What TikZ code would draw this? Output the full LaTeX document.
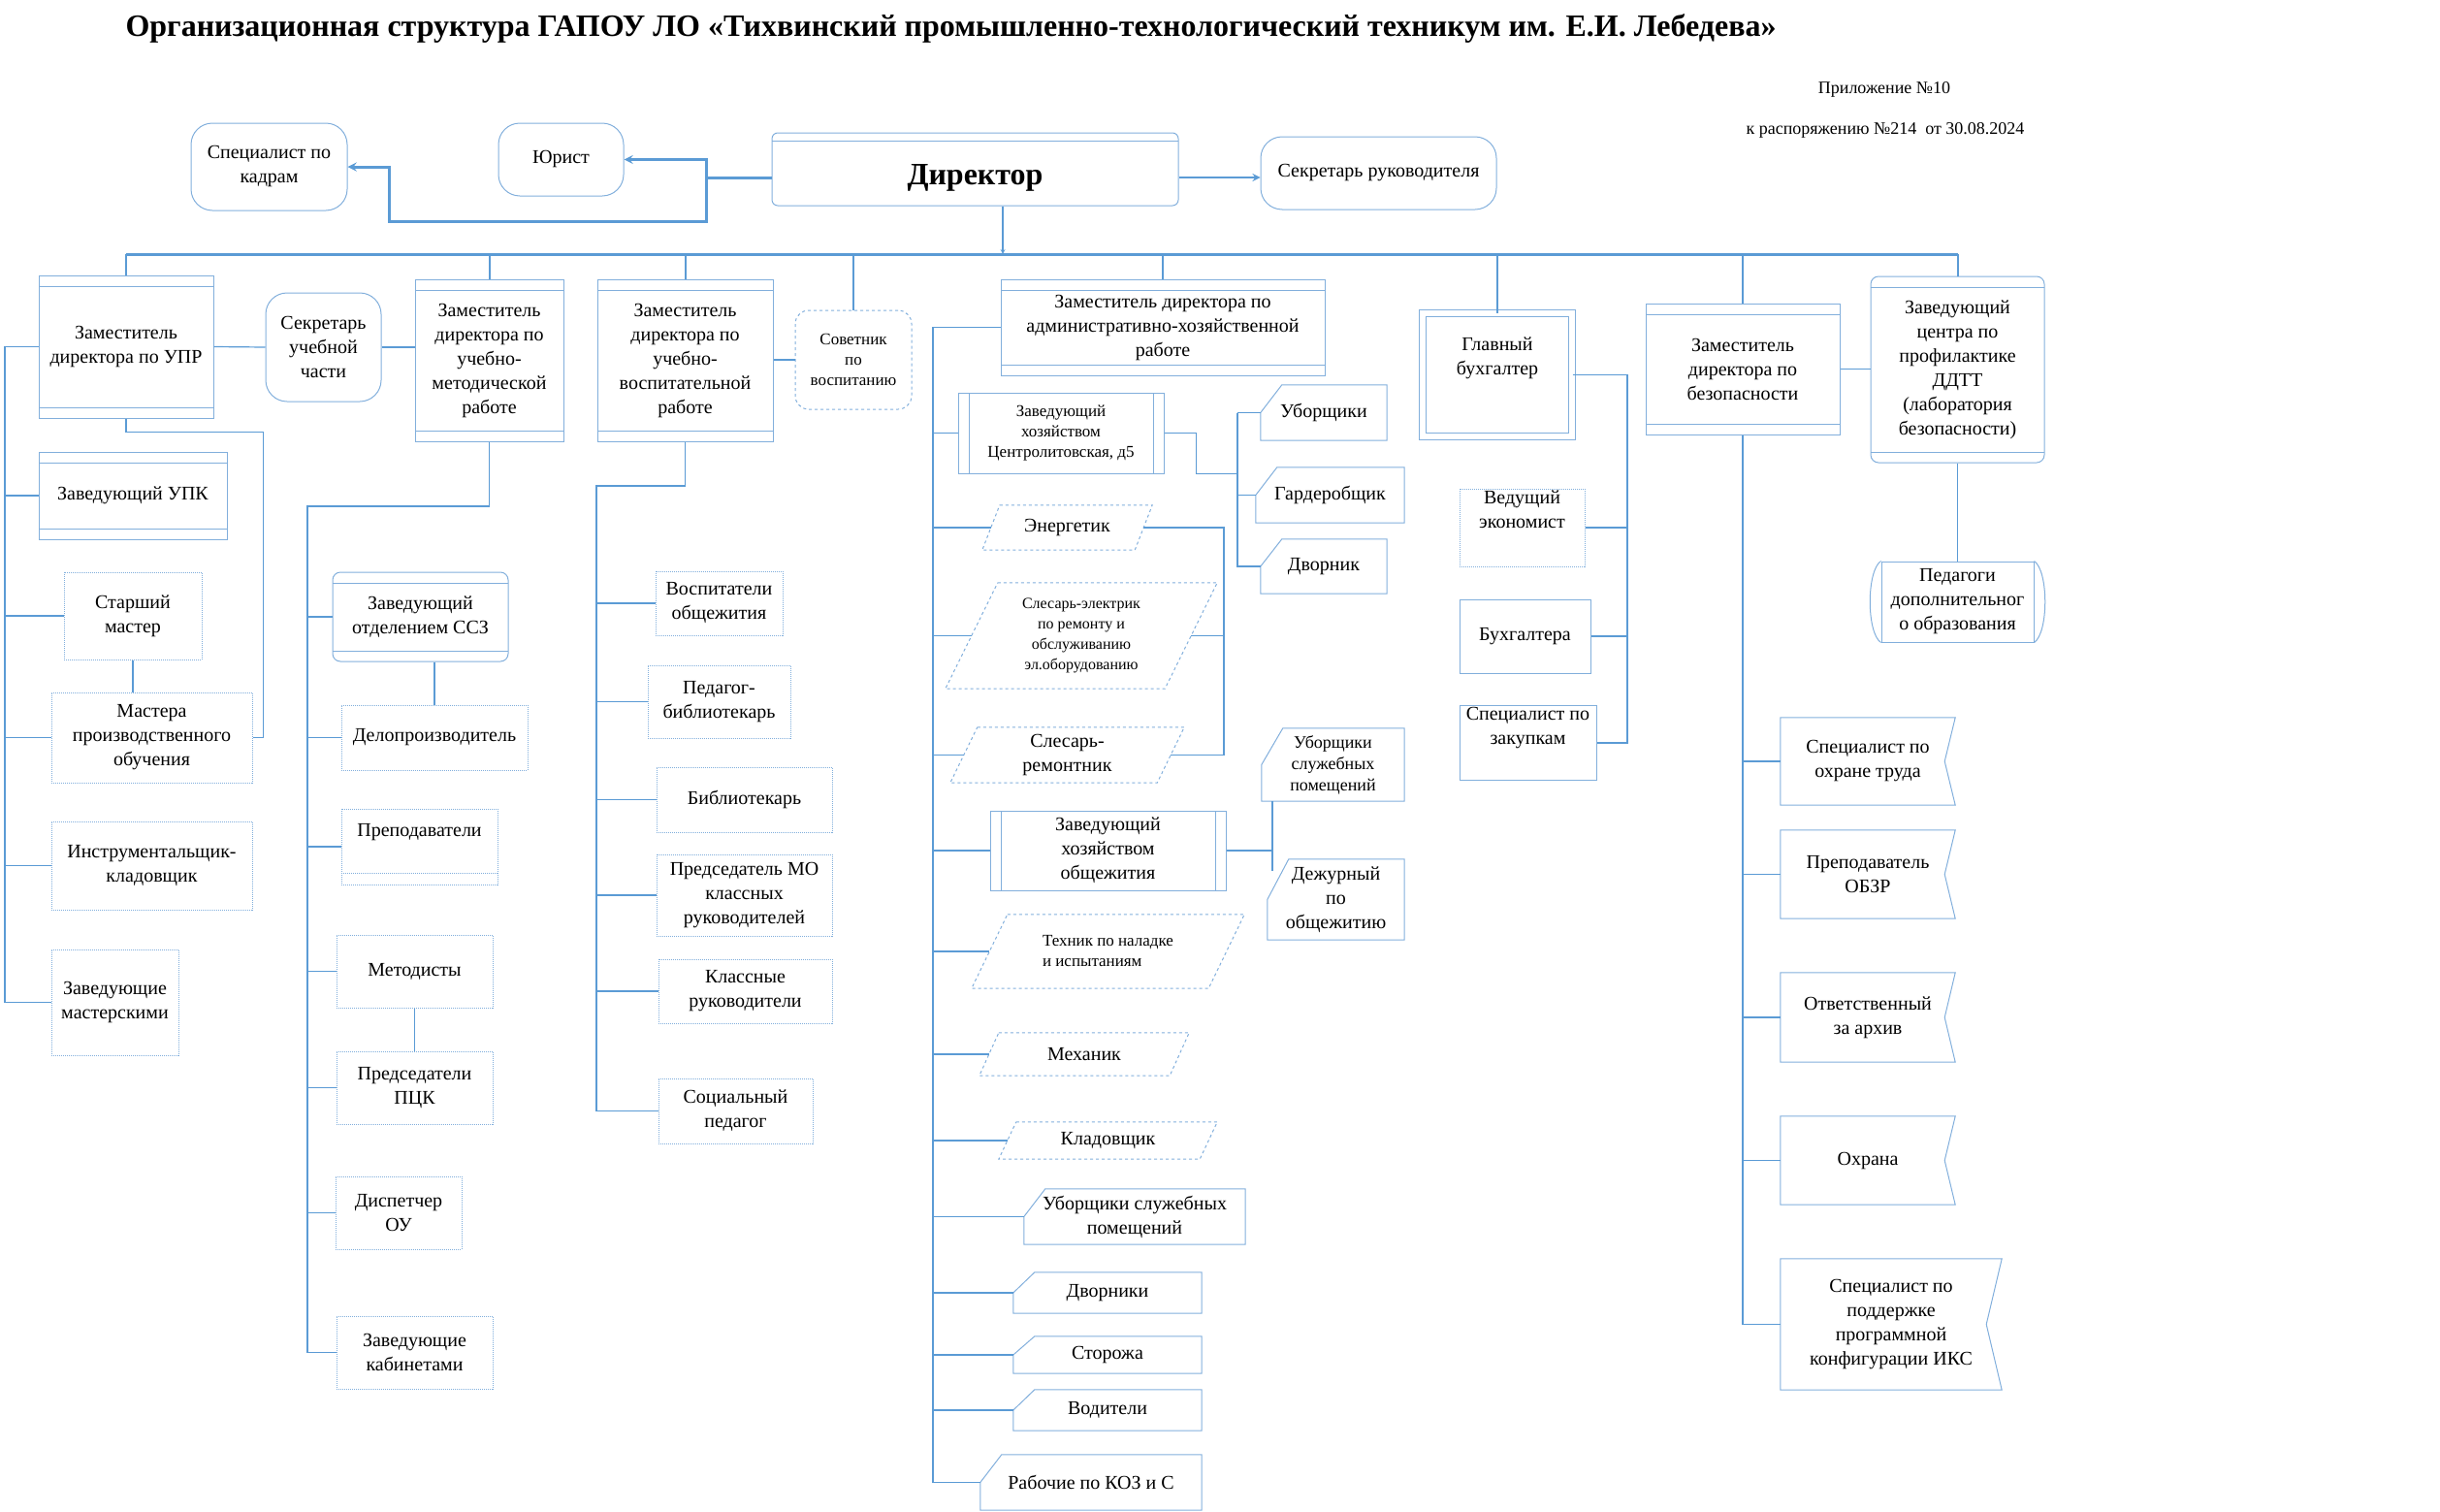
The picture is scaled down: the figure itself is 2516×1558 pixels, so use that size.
\documentclass[tikz,border=0pt]{standalone}
\usepackage{fontspec}
\setmainfont{Liberation Serif}
\usetikzlibrary{arrows}
\definecolor{boxc}{RGB}{130,175,220}
\definecolor{lnc}{RGB}{91,155,213}

\newcommand{\slantbox}[2]{\draw[dashbox] ([xshift=#2/2]#1.north west) -- ([xshift=#2/2]#1.north east) -- ([xshift=-#2/2]#1.south east) -- ([xshift=-#2/2]#1.south west) -- cycle;}
\newcommand{\snipbox}[2]{\draw[solidbox] (#1.west) -- ([xshift=#2]#1.north west) -- (#1.north east) -- (#1.south east) -- (#1.south west) -- cycle;}
\newcommand{\flagbox}[2]{\draw[solidbox] (#1.north west) -- (#1.north east) -- ([xshift=-#2]#1.east) -- (#1.south east) -- (#1.south west) -- cycle;}

\begin{document}
\begin{tikzpicture}[x=1pt, y=-1pt, font=\fontsize{20}{25}\selectfont,
  sz/.style 2 args={minimum width=#1pt, minimum height=#2pt}]
\tikzstyle{box} = [draw=boxc, line width=1pt, align=center, inner sep=2pt]
\tikzstyle{plain} = [align=center, inner sep=2pt]
\tikzstyle{rbox} = [box, rounded corners=22pt]
\tikzstyle{dotbox} = [box, densely dotted]
\tikzstyle{dashbox} = [draw=boxc, line width=1pt, dashed]
\tikzstyle{solidbox} = [draw=boxc, line width=1pt]
\tikzstyle{band} = [box, path picture={\draw[boxc, line width=1pt]
  ([yshift=-11pt]path picture bounding box.north west) -- ([yshift=-11pt]path picture bounding box.north east)
  ([yshift=11pt]path picture bounding box.south west) -- ([yshift=11pt]path picture bounding box.south east);}]
\tikzstyle{predef} = [box, path picture={\draw[boxc, line width=1pt]
  ([xshift=11pt]path picture bounding box.north west) -- ([xshift=11pt]path picture bounding box.south west)
  ([xshift=-11pt]path picture bounding box.north east) -- ([xshift=-11pt]path picture bounding box.south east);}]
\tikzstyle{link} = [draw=lnc, line width=1.2pt]
\tikzstyle{drop} = [draw=lnc, line width=2pt]
\tikzstyle{bus} = [draw=lnc, line width=3pt]
\tikzstyle{small} = [font=\fontsize{17}{21}\selectfont]

\useasboundingbox (0,0) rectangle (2516,1558);

\node[anchor=west, font=\bfseries\fontsize{32}{40}\selectfont] (title) at (126,29)
  {Организационная структура ГАПОУ ЛО «Тихвинский промышленно-технологический техникум им. Е.И. Лебедева»};
\node[font=\fontsize{18}{22}\selectfont] (pril) at (1943,92) {Приложение №10};
\node[font=\fontsize{18}{22}\selectfont] (rasp) at (1944,134) {к распоряжению №214~ от 30.08.2024};

% руководство
\node[box, rounded corners=6pt, sz={419}{75}, path picture={\draw[boxc, line width=1pt]
  ([yshift=-8pt]path picture bounding box.north west) -- ([yshift=-8pt]path picture bounding box.north east);},
  label={[font=\bfseries\fontsize{32}{38}\selectfont, yshift=-9pt]center:Директор}]
  (dir) at (1005.5,174.5) {};
\node[rbox, sz={161}{90}] (kadr) at (277.5,172) {Специалист по\\кадрам};
\node[rbox, sz={129}{75}] (yur) at (578.5,164.5) {Юрист};
\node[rbox, sz={243}{75}] (sekr) at (1421.5,178.5) {Секретарь руководителя};

\coordinate (jd) at (728,183);
\coordinate (busd) at (1034,262);
\draw[draw=lnc, line width=3pt] (jd -| dir.west) -- (jd);
\draw[draw=lnc, line width=3pt, ->, >=stealth] (jd) |- (yur.east);
\draw[draw=lnc, line width=3pt, ->, >=stealth] (jd) |- ([xshift=43pt, yshift=-56pt]kadr.east) |- (kadr.east);
\draw[draw=lnc, line width=2.5pt, ->, >=stealth] (jd -| dir.east) -- (jd -| sekr.west);
\draw[link, ->, >=stealth] (busd |- dir.south) -- (busd);

% заместители
\node[band, sz={180}{147}] (upr) at (130,357.5) {Заместитель\\директора по УПР};
\node[rbox, sz={119}{112}] (sup) at (333.5,358) {Секретарь\\учебной\\части};
\node[band, sz={153}{167}] (umr) at (504.5,371.5) {Заместитель\\директора по\\учебно-\\методической\\работе};
\node[band, sz={181}{167}] (uvr) at (706.5,371.5) {Заместитель\\директора по\\учебно-\\воспитательной\\работе};
\node[box, dashed, rounded corners=14pt, small, sz={120}{102}] (sov) at (880,371) {Советник\\по\\воспитанию};
\node[band, sz={334}{99}] (ahr) at (1199,337.5) {Заместитель директора по\\административно-хозяйственной\\работе};
\node[box, double=white, double distance=6pt, sz={154}{127}] (gb) at (1544,386.5) {Главный\\бухгалтер\\[14pt]};
\node[band, sz={200}{135}] (zb) at (1797,380.5) {Заместитель\\директора по\\безопасности};
\node[band, rounded corners=8pt, sz={179}{192}] (centr) at (2018.5,381)
  {Заведующий\\центра по\\профилактике\\ДДТТ\\(лаборатория\\безопасности)};

\draw[bus] (upr.north |- busd) -- (centr.north |- busd);
\foreach \n in {upr,umr,uvr,sov,ahr,gb,zb,centr}
  \draw[drop] (\n.north |- busd) -- (\n.north);
\draw[link] (upr.east) -- (sup.west);
\draw[link] (sup.east) -- (sup.east -| umr.west);
\draw[link] (uvr.east |- sov.west) -- (sov.west);
\draw[link] (zb.east) -- (zb.east -| centr.west);

% УПР
\node[band, sz={194}{90}] (upk) at (137,511) {Заведующий УПК};
\node[dotbox, sz={142}{90}] (stm) at (137,635) {Старший\\мастер};
\node[dotbox, sz={207}{93}] (mpo) at (156.5,760.5) {Мастера\\производственного\\обучения};
\node[dotbox, sz={207}{91}] (ikl) at (156.5,892.5) {Инструментальщик-\\кладовщик};
\node[dotbox, sz={131}{109}] (zmast) at (118.5,1033.5) {Заведующие\\мастерскими};

\coordinate (s1) at (5,0);
\draw[link] (upr.west) -- (upr.west -| s1) -- (zmast.west -| s1) -- (zmast.west);
\foreach \n in {upk,stm,mpo,ikl}
  \draw[link] (\n.west -| s1) -- (\n.west);
\draw[link] (stm.south) -- (stm.south |- mpo.north);
\draw[link] (upr.south) -- ++(0,14) -| ([xshift=11pt]mpo.east) -- (mpo.east);

% УМР
\node[band, rounded corners=8pt, sz={181}{92}] (ssz) at (433.5,636) {Заведующий\\отделением ССЗ};
\node[dotbox, sz={192}{67}] (delo) at (448,760.5) {Делопроизводитель};
\node[dotbox, sz={161}{78}, path picture={\draw[boxc, line width=1pt]
  ([yshift=12pt]path picture bounding box.south west) -- ([yshift=12pt]path picture bounding box.south east);}]
  (prep) at (432.5,873) {Преподаватели\\[10pt]};
\node[dotbox, sz={161}{75}] (metod) at (427.5,1001.5) {Методисты};
\node[dotbox, sz={161}{75}] (pck) at (427.5,1121.5) {Председатели\\ПЦК};
\node[dotbox, sz={130}{75}] (disp) at (411,1250.5) {Диспетчер\\ОУ};
\node[dotbox, sz={161}{75}] (zkab) at (427.5,1394.5) {Заведующие\\кабинетами};

\coordinate (s2) at (317,522);
\draw[link] (umr.south) |- (s2) -- (s2 |- zkab.west) -- (zkab.west);
\foreach \n in {ssz,delo,prep,metod,pck,disp}
  \draw[link] (\n.west -| s2) -- (\n.west);
\draw[link] (delo.north |- ssz.south) -- (delo.north);
\draw[link] (metod.south) -- (pck.north);

% УВР
\node[dotbox, sz={131}{66}] (vosp) at (741.5,622) {Воспитатели\\общежития};
\node[dotbox, sz={147}{75}] (pedb) at (741.5,723.5) {Педагог-\\библиотекарь};
\node[dotbox, sz={181}{67}] (bibl) at (767.5,824.5) {Библиотекарь};
\node[dotbox, sz={181}{84}] (pmo) at (767.5,923) {Председатель МО\\классных\\руководителей};
\node[dotbox, sz={179}{66}] (klr) at (768.5,1022) {Классные\\руководители};
\node[dotbox, sz={159}{67}] (socp) at (758.5,1145.5) {Социальный\\педагог};

\coordinate (s8) at (615,501);
\draw[link] (uvr.south) |- (s8) -- (s8 |- socp.west) -- (socp.west);
\foreach \n in {vosp,pedb,bibl,pmo,klr}
  \draw[link] (\n.west -| s8) -- (\n.west);

% АХР
\node[predef, small, sz={212}{83}] (zh1) at (1094,446.5) {Заведующий\\хозяйством\\Центролитовская, д5};
\node[plain, sz={157}{46}] (energ) at (1100.5,544) {Энергетик};
\node[plain, font=\fontsize{16}{21}\selectfont, sz={226}{109}] (slel) at (1115,655.5)
  {Слесарь-электрик\\по ремонту и\\обслуживанию\\эл.оборудованию};
\node[plain, sz={213}{57}] (slrem) at (1100.5,778.5) {Слесарь-\\ремонтник};
\node[predef, sz={243}{82}] (zh2) at (1142.5,877) {Заведующий\\хозяйством\\общежития};
\node[plain, small, align=left, sz={244}{76}] (tech) at (1142.5,981) {Техник по наладке\\и испытаниям};
\node[plain, sz={196}{44}] (mech) at (1118,1087) {Механик};
\node[plain, sz={207}{38}] (klad) at (1142.5,1176) {Кладовщик};
\node[plain, sz={228}{57}] (ub2) at (1170,1254.5) {Уборщики служебных\\помещений};
\node[plain, sz={194}{42}] (dvor2) at (1142,1333) {Дворники};
\node[plain, sz={194}{38}] (stor) at (1142,1397) {Сторожа};
\node[plain, sz={194}{42}] (vod) at (1142,1454) {Водители};
\node[plain, sz={228}{57}] (rab) at (1125,1528.5) {Рабочие по КОЗ и С};
\slantbox{energ}{18}
\slantbox{slel}{54}
\slantbox{slrem}{28}
\slantbox{tech}{37}
\slantbox{mech}{20}
\slantbox{klad}{18}
\foreach \n in {ub2,dvor2,stor,vod,rab} {\snipbox{\n}{22}}

\node[plain, sz={130}{57}] (ub1) at (1365,425.5) {Уборщики};
\node[plain, sz={153}{57}] (gard) at (1371.5,510.5) {Гардеробщик};
\node[plain, sz={130}{56}] (dv1) at (1365,584) {Дворник};
\node[plain, font=\fontsize{18}{22}\selectfont, sz={147}{75}] (ub3) at (1374.5,788.5) {Уборщики\\служебных\\помещений};
\node[plain, sz={141}{83}] (dej) at (1377.5,927.5) {Дежурный\\по\\общежитию};
\foreach \n in {ub1,gard,dv1,ub3,dej} {\snipbox{\n}{22}}

\coordinate (s3) at (962,0);
\draw[link] (ahr.west) -- (ahr.west -| s3) -- (rab.west -| s3) -- (rab.west);
\foreach \n in {zh1,energ,slel,slrem,zh2,tech,mech,klad,ub2,dvor2,stor,vod}
  \draw[link] (\n.west -| s3) -- (\n.west);
\coordinate (s4) at (1276,0);
\draw[link] (zh1.east) -- ++(33,0) |- (s4 |- zh1.south);
\draw[link] (ub1.west -| s4) -- (dv1.west -| s4) -- (dv1.west);
\draw[link] (ub1.west -| s4) -- (ub1.west);
\draw[link] (gard.west -| s4) -- (gard.west);
\coordinate (s5) at (1262,0);
\draw[link] (energ.east) -- (energ.east -| s5) -- (slrem.east -| s5) -- (slrem.east);
\draw[link] (slel.east) -- (slel.east -| s5);
\coordinate (s6) at (1312,0);
\draw[link] (zh2.east) -- (zh2.east -| s6);
\draw[link] (s6 |- ub3.south) -- ([yshift=-12pt]s6 |- dej.north);

% бухгалтерия
\node[dotbox, sz={129}{80}] (vedek) at (1569.5,544) {Ведущий\\экономист\\[12pt]};
\node[box, sz={135}{76}] (buh) at (1572.5,656) {Бухгалтера};
\node[box, sz={141}{76}] (zak) at (1575.5,766) {Специалист по\\закупкам\\[10pt]};
\coordinate (s7) at (1678,0);
\draw[link] (gb.east) -- (gb.east -| s7) -- (zak.east -| s7) -- (zak.east);
\draw[link] (vedek.east) -- (vedek.east -| s7);
\draw[link] (buh.east) -- (buh.east -| s7);

% безопасность
\node[plain, sz={180}{90}] (ot) at (1926,785) {Специалист по\\охране труда};
\node[plain, sz={180}{91}] (obzr) at (1926,901.5) {Преподаватель\\ОБЗР};
\node[plain, sz={180}{92}] (arch) at (1926,1049) {Ответственный\\за архив};
\node[plain, sz={180}{91}] (ohr) at (1926,1196.5) {Охрана};
\node[plain, sz={228}{135}] (iks) at (1950,1365.5) {Специалист по\\поддержке\\программной\\конфигурации ИКС};
\foreach \n in {ot,obzr,arch,ohr} {\flagbox{\n}{11}}
\flagbox{iks}{16}
\draw[link] (zb.south) -- (zb.south |- iks.west) -- (iks.west);
\foreach \n in {ot,obzr,arch,ohr}
  \draw[link] (zb.south |- \n.west) -- (\n.west);

\node[box, sz={157}{83}] (pdo) at (2018.5,620.5) {Педагоги\\дополнительног\\о образования};
\draw[solidbox] (pdo.north west) .. controls +(-15,10) and +(-15,-10) .. (pdo.south west);
\draw[solidbox] (pdo.north east) .. controls +(15,10) and +(15,-10) .. (pdo.south east);
\draw[link] (centr.south) -- (pdo.north);
\end{tikzpicture}
\end{document}
